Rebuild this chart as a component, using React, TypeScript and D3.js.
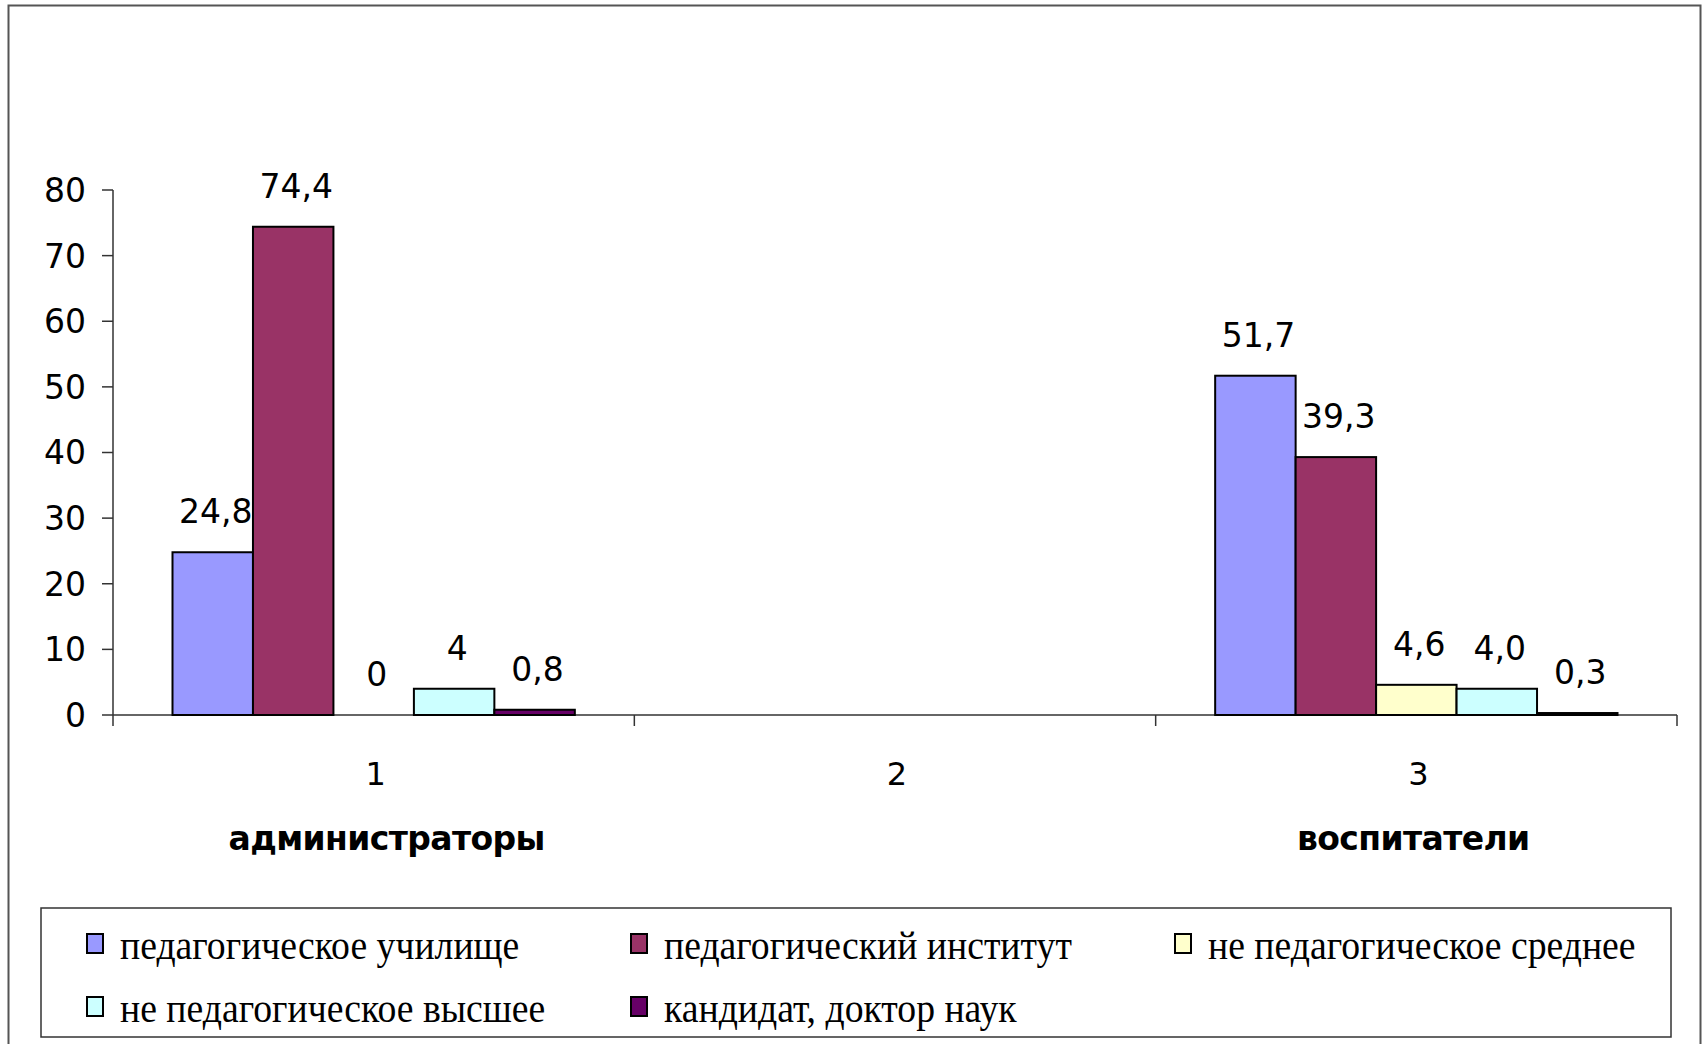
import React, { useEffect, useRef } from "react";
import * as d3 from "d3";

const categories = ["1", "2", "3"];
const categoryNames = ["администраторы", "", "воспитатели"];
const seriesNames = [
  "педагогическое училище",
  "педагогический институт",
  "не педагогическое среднее",
  "не педагогическое высшее",
  "кандидат, доктор наук",
];
const seriesColors = ["#9999FF", "#993366", "#FFFFCC", "#CCFFFF", "#660066"];
// values per series, per category (null = no data)
const vUchilische = [24.8, null, 51.7];
const vInstitut = [74.4, null, 39.3];
const vNePedSrednee = [0, null, 4.6];
const vNePedVysshee = [4, null, 4.0];
const vKandidat = [0.8, null, 0.3];
const labelsUchilische = ["24,8", "", "51,7"];
const labelsInstitut = ["74,4", "", "39,3"];
const labelsNePedSrednee = ["0", "", "4,6"];
const labelsNePedVysshee = ["4", "", "4,0"];
const labelsKandidat = ["0,8", "", "0,3"];
const yTicks = [0, 10, 20, 30, 40, 50, 60, 70, 80];

const seriesValues = [vUchilische, vInstitut, vNePedSrednee, vNePedVysshee, vKandidat];
const seriesLabels = [labelsUchilische, labelsInstitut, labelsNePedSrednee, labelsNePedVysshee, labelsKandidat];

export default function App() {
  const ref = useRef<SVGSVGElement>(null);

  useEffect(() => {
    const svg = d3.select(ref.current);
    svg.selectAll("*").remove();

    const W = 1704, H = 1044;
    const left = 113, right = 1677, top = 190, bottom = 715;
    const numFont = "'DejaVu Sans', Verdana, sans-serif";

    svg.append("rect").attr("x", 0).attr("y", 0).attr("width", W).attr("height", H).attr("fill", "#fff");
    // outer frame
    svg.append("rect").attr("x", 8.5).attr("y", 5.5).attr("width", 1692).attr("height", 1050)
      .attr("fill", "none").attr("stroke", "#555").attr("stroke-width", 2);

    const x0 = d3.scaleBand<string>().domain(categories).range([left, right]).padding(0);
    const inner = 59.5;
    const x1 = d3.scaleBand<string>().domain(seriesNames)
      .range([inner, x0.bandwidth() - inner]).padding(0);
    const y = d3.scaleLinear().domain([0, 80]).range([bottom, top]);

    // y axis
    const g = svg.append("g");
    g.append("line").attr("x1", left).attr("x2", left).attr("y1", y(80)).attr("y2", y(0))
      .attr("stroke", "#333").attr("stroke-width", 1.5);
    yTicks.forEach((t) => {
      g.append("line").attr("x1", left - 11).attr("x2", left).attr("y1", y(t)).attr("y2", y(t))
        .attr("stroke", "#333").attr("stroke-width", 1.5);
      g.append("text").attr("x", left - 27).attr("y", y(t)).attr("dy", "0.36em")
        .attr("text-anchor", "end").attr("font-family", numFont).attr("font-size", 33)
        .attr("fill", "#000").text(String(t));
    });

    // x axis
    g.append("line").attr("x1", left).attr("x2", right).attr("y1", y(0)).attr("y2", y(0))
      .attr("stroke", "#333").attr("stroke-width", 1.5);
    const bounds = categories.map((c) => x0(c)!).concat([right]);
    bounds.forEach((bx) => {
      g.append("line").attr("x1", bx).attr("x2", bx).attr("y1", y(0)).attr("y2", y(0) + 11)
        .attr("stroke", "#333").attr("stroke-width", 1.5);
    });
    categories.forEach((c) => {
      g.append("text").attr("x", x0(c)! + x0.bandwidth() / 2 + 2).attr("y", 785)
        .attr("text-anchor", "middle").attr("font-family", numFont).attr("font-size", 32)
        .attr("fill", "#000").text(c);
    });
    const nameOffsets = [13, 0, -3];
    categories.forEach((c, i) => {
      if (!categoryNames[i]) return;
      g.append("text").attr("x", x0(c)! + x0.bandwidth() / 2 + nameOffsets[i]).attr("y", 850)
        .attr("text-anchor", "middle").attr("font-family", "'DejaVu Sans', Verdana, sans-serif")
        .attr("font-weight", "bold").attr("font-size", 33).attr("letter-spacing", -0.6)
        .attr("fill", "#000").text(categoryNames[i]);
    });

    // bars
    seriesNames.forEach((s, si) => {
      categories.forEach((c, ci) => {
        const v = seriesValues[si][ci];
        if (v === null || v === undefined) return;
        const bx = x0(c)! + x1(s)!;
        const bw = x1.bandwidth();
        if (v > 0) {
          svg.append("rect").attr("x", bx).attr("y", y(v)).attr("width", bw)
            .attr("height", y(0) - y(v)).attr("fill", seriesColors[si])
            .attr("stroke", "#000").attr("stroke-width", 2);
        }
        svg.append("text").attr("x", bx + bw / 2 + 3).attr("y", y(v) - 29)
          .attr("text-anchor", "middle").attr("font-family", numFont).attr("font-size", 33)
          .attr("fill", "#000").text(seriesLabels[si][ci]);
      });
    });

    // legend
    svg.append("rect").attr("x", 41).attr("y", 908).attr("width", 1630).attr("height", 129)
      .attr("fill", "#fff").attr("stroke", "#333").attr("stroke-width", 1.5);
    const colX = [87, 631, 1175];
    const rowY = [959, 1022];
    seriesNames.forEach((s, i) => {
      const col = i % 3, row = Math.floor(i / 3);
      const sx = colX[col], by = rowY[row];
      svg.append("rect").attr("x", sx).attr("y", by - 25).attr("width", 16).attr("height", 19)
        .attr("fill", seriesColors[i]).attr("stroke", "#000").attr("stroke-width", 2);
      svg.append("text")
        .attr("transform", `translate(${sx + 33},${by}) scale(0.92,1)`)
        .attr("font-family", "'Liberation Serif', 'Times New Roman', serif")
        .attr("font-size", 41).attr("fill", "#000").text(s);
    });
  }, []);

  return (
    <svg ref={ref} width={1704} height={1044}
      style={{ position: "absolute", left: 0, top: 0, display: "block" }} />
  );
}
